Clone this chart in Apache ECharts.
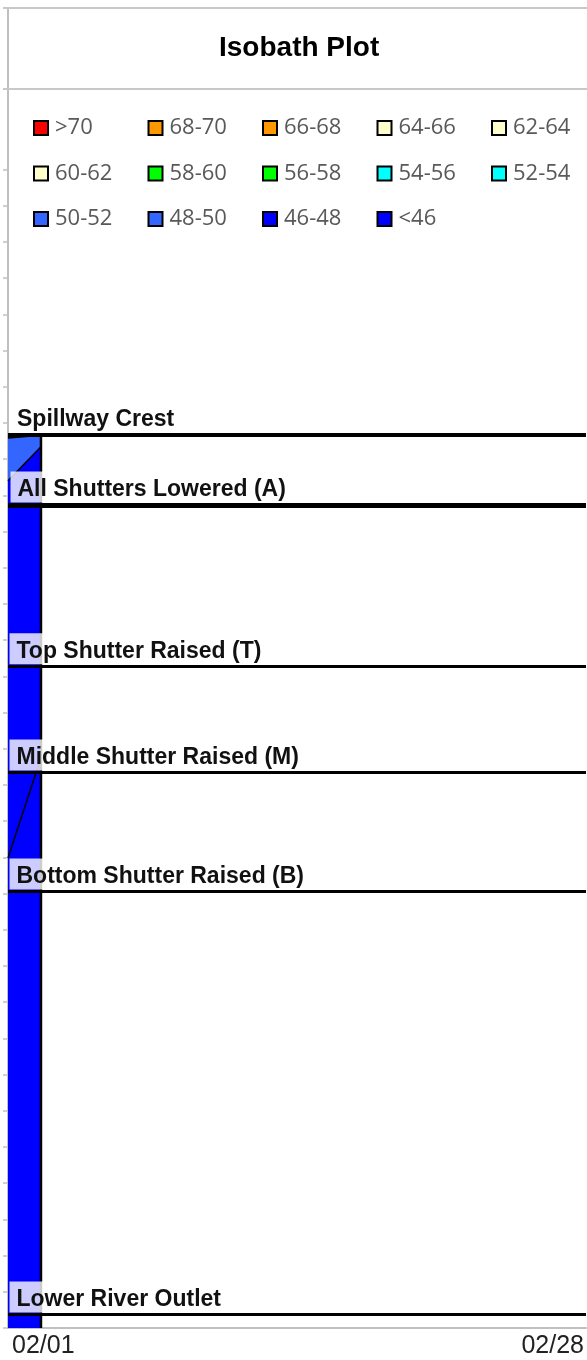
<!DOCTYPE html>
<html>
<head>
<meta charset="utf-8">
<script src="https://cdn.jsdelivr.net/npm/echarts@6/dist/echarts.min.js"></script>
<style>
  html, body { margin: 0; padding: 0; background: #fff; }
  #chart { width: 587px; height: 1360px; }
</style>
</head>
<body>
<div id="chart"></div>
<script>
// 温度分级（图例）
const bandNames = ['>70', '68-70', '66-68', '64-66', '62-64', '60-62', '58-60',
  '56-58', '54-56', '52-54', '50-52', '48-50', '46-48', '<46']
const bandColors = ['#ff0000', '#ff9900', '#ff9900', '#ffffcc', '#ffffcc', '#ffffcc', '#00ff00',
  '#00ff00', '#00ffff', '#00ffff', '#3366ff', '#3366ff', '#0000ff', '#0000ff']

// 剖面日期（距 02/01 的天数）
const profileDays = [0, 1.54]
// 各等温线高程
const surfaceElev = [124.60, 124.67]   // 水面
const iso48Elev = [123.40, 124.34]     // 48 等温线
const iso46Elev = [112.98, 115.75]     // 46 等温线
const bottomElev = 100

// 闸门/控制高程
const levelNames = ['Spillway Crest', 'All Shutters Lowered (A)', 'Top Shutter Raised (T)',
  'Middle Shutter Raised (M)', 'Bottom Shutter Raised (B)', 'Lower River Outlet']
const levelElev = [124.67, 122.73, 118.29, 115.36, 112.07, 100.39]

// 坐标轴刻度
const xTickDays = [0, 27]
const xTickLabels = ['02/01', '02/28']
const yTicks = []
for (let v = 100; v <= 132; v++) yTicks.push(v)

function pairs(xs, ys) {
  return xs.map((x, i) => [x, ys[i]])
}

const chart = echarts.init(document.getElementById('chart'))

// 填色区（按从上到下的顺序覆盖）
const filled = {
  '48-50': surfaceElev,
  '46-48': iso48Elev,
  '<46': iso46Elev,
}

const series = bandNames.map((name, i) => ({
  name: name,
  type: 'line',
  color: bandColors[i],
  showSymbol: false,
  silent: true,
  lineStyle: { width: 0 },
  areaStyle: filled[name] ? { color: bandColors[i], opacity: 1, origin: 'start' } : undefined,
  data: filled[name] ? pairs(profileDays, filled[name]) : [],
  z: 2,
}))

// 等温线（黑线）
const contourLines = [surfaceElev, iso48Elev, iso46Elev]
contourLines.forEach((ys, i) => {
  series.push({
    type: 'line',
    showSymbol: false,
    silent: true,
    lineStyle: { color: '#000', width: i === 0 ? 2.5 : 1.5 },
    data: pairs(profileDays, ys),
    z: 3,
  })
})

// 剖面右边界 + 控制高程线
const levelWidths = [4, 5, 3, 3, 3, 3]
series.push({
  type: 'line',
  showSymbol: false,
  silent: true,
  lineStyle: { color: '#000', width: 2.5 },
  data: [[profileDays[1], bottomElev], [profileDays[1], surfaceElev[1]]],
  z: 3,
  markLine: {
    silent: true,
    symbol: 'none',
    animation: false,
    data: levelNames.map((n, i) => ({
      name: n,
      yAxis: levelElev[i],
      lineStyle: { color: '#000', width: levelWidths[i], type: 'solid' },
      label: { distance: levelWidths[i] / 2 },
    })),
    label: {
      show: true,
      position: 'insideStartTop',
      formatter: '{b}',
      fontFamily: 'Liberation Sans',
      fontWeight: 'bold',
      fontSize: 23,
      lineHeight: 26,
      color: '#111',
      backgroundColor: 'rgba(255,255,255,0.8)',
      padding: [5, 8, 0, 7],
    },
  },
})

const option = {
  animation: false,
  backgroundColor: '#fff',
  title: {
    text: 'Isobath Plot',
    left: 214,
    top: 29,
    textStyle: { fontFamily: 'Liberation Sans', fontWeight: 'bold', fontSize: 28, color: '#000' },
  },
  legend: {
    data: bandNames,
    left: 33,
    top: 112,
    width: 560,
    padding: 0,
    itemGap: 13.5,
    itemWidth: 14,
    itemHeight: 14,
    icon: 'rect',
    selectedMode: false,
    itemStyle: { borderColor: '#000', borderWidth: 2 },
    textStyle: {
      fontFamily: 'Open Sans', fontSize: 22, color: '#595959',
      width: 79, lineHeight: 32, padding: [0, 0, 0, 2],
    },
  },
  grid: { left: 8, right: 0, top: 8, bottom: 32 },
  xAxis: {
    type: 'value',
    min: 0,
    max: 27,
    interval: 27,
    splitLine: { show: false },
    axisTick: { show: false },
    axisLine: { lineStyle: { color: '#c0c0c0', width: 2 } },
    axisLabel: {
      fontFamily: 'Liberation Sans',
      fontSize: 25,
      color: '#222',
      margin: 6,
      padding: [0, 2, 0, 4],
      alignMinLabel: 'left',
      alignMaxLabel: 'right',
      formatter: v => xTickLabels[xTickDays.indexOf(v)] || '',
    },
  },
  yAxis: {
    type: 'value',
    min: 100,
    max: 136.46,
    splitLine: { show: false },
    axisLabel: { show: false, customValues: yTicks },
    axisLine: { show: true, lineStyle: { color: '#c0c0c0', width: 2 } },
    axisTick: { show: true, length: 5, customValues: yTicks, lineStyle: { color: '#c0c0c0', width: 1.5 } },
  },
  graphic: [
    { type: 'line', shape: { x1: 3, y1: 8, x2: 587, y2: 8 }, style: { stroke: '#c8c8c8', lineWidth: 2 }, z: 10 },
    { type: 'line', shape: { x1: 3, y1: 89, x2: 587, y2: 89 }, style: { stroke: '#c8c8c8', lineWidth: 2 }, z: 10 },
  ],
  series: series,
}

chart.setOption(option)
</script>
</body>
</html>
